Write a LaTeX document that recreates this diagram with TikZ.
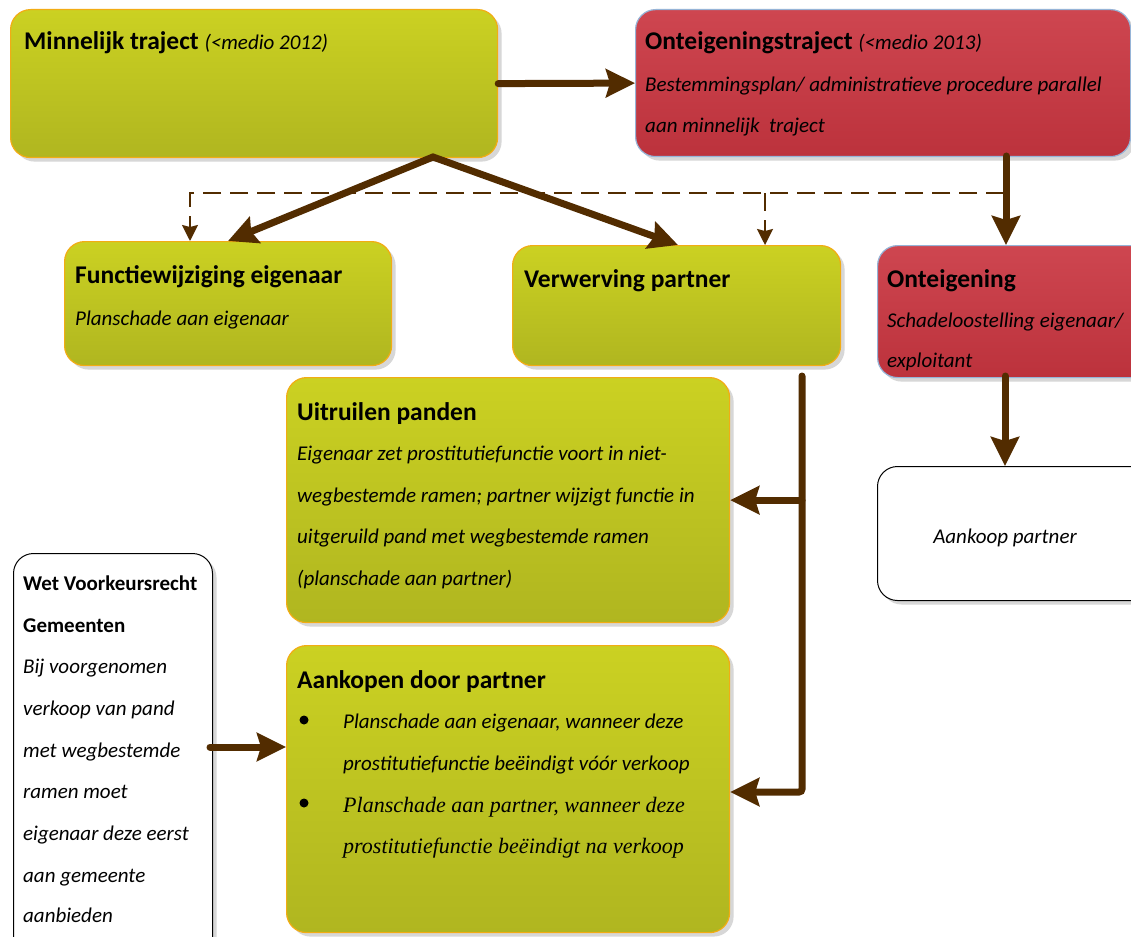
\documentclass[tikz,border=0pt]{standalone}
\usepackage{fontspec}
\newfontfamily\calfont{Carlito}
\newfontfamily\serfont{Liberation Serif}
\usetikzlibrary{arrows.meta,calc,shadows}
\definecolor{gtop}{RGB}{203,209,34}
\definecolor{gbot}{RGB}{176,182,32}
\definecolor{gborder}{RGB}{242,172,20}
\definecolor{rtop}{RGB}{206,70,80}
\definecolor{rbot}{RGB}{188,50,60}
\definecolor{rborder}{RGB}{150,180,215}
\definecolor{arrowbrown}{RGB}{82,44,0}
\definecolor{shadowgray}{RGB}{215,215,215}
\tikzset{
  box/.style={rectangle, rounded corners=20pt, anchor=north west, inner sep=0pt, line width=1.2pt,
    drop shadow={shadow xshift=4pt, shadow yshift=-4pt, fill=shadowgray, opacity=1}},
  gbox/.style={box, draw=gborder, top color=gtop, bottom color=gbot},
  rbox/.style={box, draw=rborder, top color=rtop, bottom color=rbot},
  wbox/.style={box, draw=black, fill=white, line width=1pt},
  title/.style={anchor=base west, inner sep=0pt, font=\calfont\bfseries\fontsize{25.5}{30}\selectfont},
  wtitle/.style={anchor=base west, inner sep=0pt, font=\calfont\bfseries\fontsize{21}{25}\selectfont},
  itext/.style={anchor=base west, inner sep=0pt, font=\calfont\itshape\fontsize{21}{25}\selectfont},
  stext/.style={anchor=base west, inner sep=0pt, font=\serfont\itshape\fontsize{22}{26}\selectfont},
  bigtip/.tip={Stealth[length=29pt, width=28pt, inset=4pt]},
  big/.style={draw=arrowbrown, line width=7pt, line cap=round, -bigtip},
  dline/.style={draw=arrowbrown, line width=2pt, dash pattern=on 18pt off 9pt},
  darrow/.style={dline, -{Stealth[length=16pt, width=16pt, inset=2pt]}},
}
\begin{document}
\begin{tikzpicture}[x=1pt,y=-1pt]
\useasboundingbox (0,0) rectangle (1131,936);
\fill[white] (0,0) rectangle (1131,936);
\clip (0,0) rectangle (1131,936);

% boxes
\node[gbox, minimum width=487pt, minimum height=148pt] (minn) at (10,9) {};
\node[rbox, minimum width=495pt, minimum height=147pt] (ont1) at (635,9) {};
\node[gbox, minimum width=327pt, minimum height=124pt] (fw) at (64,241) {};
\node[gbox, minimum width=328pt, minimum height=120pt] (vw) at (512,245) {};
\node[rbox, minimum width=290pt, minimum height=132pt] (ont2) at (877,245) {};
\node[gbox, minimum width=443pt, minimum height=245pt] (uit) at (286,377) {};
\node[gbox, minimum width=443pt, minimum height=287pt] (aank) at (286,645) {};
\node[wbox, minimum width=199pt, minimum height=420pt] (wet) at (13,553) {};
\node[wbox, minimum width=290pt, minimum height=134pt] (akp) at (877,466) {};

% texts
\node[title] (tminn) at (24,50) {Minnelijk traject {\mdseries\itshape\fontsize{21}{25}\selectfont (<medio 2012)}};
\node[title] (tont1) at (645,50) {Onteigeningstraject {\mdseries\itshape\fontsize{21}{25}\selectfont (<medio 2013)}};
\node[itext] (tont1a) at (645,92) {Bestemmingsplan/ administratieve procedure parallel};
\node[itext] (tont1b) at (645,133) {aan minnelijk\ \ traject};
\node[title] (tfw) at (75,283) {Functiewijziging eigenaar};
\node[itext] (tfwa) at (75,325) {Planschade aan eigenaar};
\node[title] (tvw) at (524,287) {Verwerving partner};
\node[title] (tont2) at (887,287) {Onteigening};
\node[itext] (tont2a) at (887,327) {Schadeloostelling eigenaar/};
\node[itext] (tont2b) at (887,367) {exploitant};
\node[title] (tuit) at (297,420) {Uitruilen panden};
\node[itext] (tuita) at (297,460) {Eigenaar zet prostitutiefunctie voort in niet-};
\node[itext] (tuitb) at (297,502) {wegbestemde ramen; partner wijzigt functie in};
\node[itext] (tuitc) at (297,543) {uitgeruild pand met wegbestemde ramen};
\node[itext] (tuitd) at (297,585) {(planschade aan partner)};
\node[title] (taank) at (297,688) {Aankopen door partner};
\fill (304,720) circle (4.5pt);
\fill (304,803) circle (4.5pt);
\node[itext] (taanka) at (343,728) {Planschade aan eigenaar, wanneer deze};
\node[itext] (taankb) at (343,770) {prostitutiefunctie beëindigt vóór verkoop};
\node[stext] (taankc) at (343,812) {Planschade aan partner, wanneer deze};
\node[stext] (taankd) at (343,853) {prostitutiefunctie beëindigt na verkoop};
\node[wtitle] (twet1) at (23,590) {Wet Voorkeursrecht};
\node[wtitle] (twet2) at (23,632) {Gemeenten};
\node[itext] (twet3) at (23,673) {Bij voorgenomen};
\node[itext] (twet4) at (23,715) {verkoop van pand};
\node[itext] (twet5) at (23,757) {met wegbestemde};
\node[itext] (twet6) at (23,798) {ramen moet};
\node[itext] (twet7) at (23,840) {eigenaar deze eerst};
\node[itext] (twet8) at (23,882) {aan gemeente};
\node[itext] (twet9) at (23,922) {aanbieden};
\node[itext, anchor=base] (takp) at (1005,543) {Aankoop partner};

% coordinates
\coordinate (apex) at (433,157);
\coordinate (fwin) at (228,241);
\coordinate (vwin) at (678,245);
\coordinate (o1out) at (1006,156);
\coordinate (o2out) at (1005,376);
\coordinate (vwout) at (802,376);
\coordinate (vcorner) at (802,792);
\coordinate (wetout) at (210,747);
\coordinate (dstart) at (1004,193);
\coordinate (dleft) at (190,193);
\coordinate (dmid) at (765,193);

% dashed connectors
\draw[darrow] (dstart) -- (dleft) -- (dleft |- fw.north);
\draw[darrow] (dmid) -- (dmid |- vw.north);

% thick connectors
\draw[big] (minn.east) -- (ont1.west);
\draw[big, line join=miter, bigtip-bigtip] (fwin) -- (apex) -- (vwin);
\draw[big] (o1out) -- (o1out |- ont2.north);
\draw[big] (o2out) -- (o2out |- akp.north);
\draw[big, rounded corners=3pt] (vwout) -- (vcorner) -- (vcorner -| aank.east);
\draw[big] (vwout |- uit.east) -- (uit.east);
\draw[big] (wetout) -- (wetout -| aank.west);
\end{tikzpicture}
\end{document}
